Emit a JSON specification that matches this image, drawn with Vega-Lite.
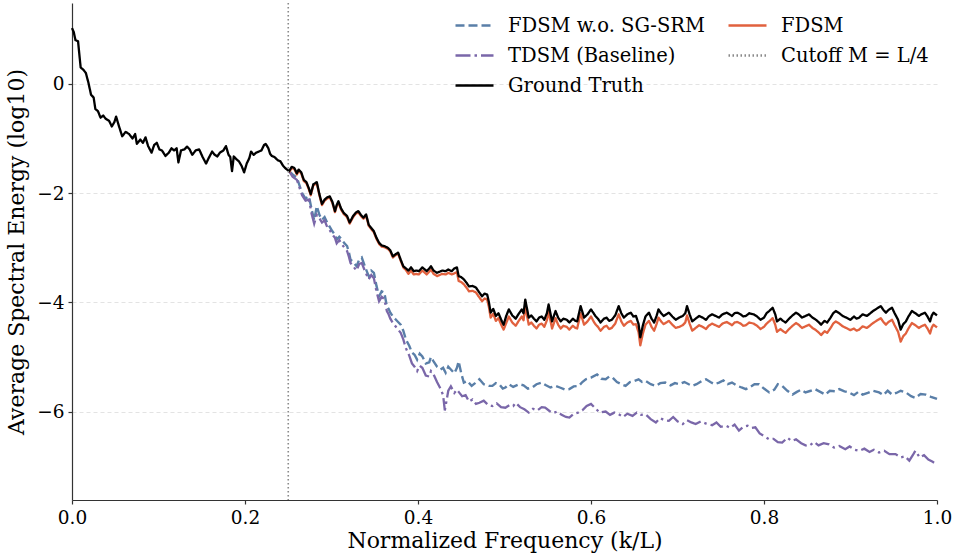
{
"$schema": "https://vega.github.io/schema/vega-lite/v6.json",
"width": 865, "height": 497,
"autosize": {"type": "none"},
"padding": {"left": 72, "top": 3, "right": 20, "bottom": 56},
"background": "white",
"config": {"font": "DejaVu Serif", "view": {"stroke": null},
  "legend": {"labelFont": "DejaVu Serif", "titleFont": "DejaVu Serif"},
  "axis": {"labelFont": "DejaVu Serif", "titleFont": "DejaVu Serif", "labelFontSize": 18.5, "titleFontSize": 22, "titleFontWeight": "normal", "labelColor": "#000", "titleColor": "#000", "domainColor": "#333", "tickColor": "#333", "domainWidth": 1.2, "tickWidth": 1.2, "tickSize": 4}},
"data": {"values": [
{"k":0.000,"v":1.02,"s":"GT"},{"k":0.002,"v":0.95,"s":"GT"},{"k":0.004,"v":0.80,"s":"GT"},{"k":0.007,"v":0.78,"s":"GT"},{"k":0.010,"v":0.30,"s":"GT"},{"k":0.013,"v":0.26,"s":"GT"},{"k":0.016,"v":0.20,"s":"GT"},{"k":0.019,"v":0.02,"s":"GT"},{"k":0.022,"v":-0.20,"s":"GT"},{"k":0.025,"v":-0.25,"s":"GT"},{"k":0.027,"v":-0.46,"s":"GT"},{"k":0.030,"v":-0.50,"s":"GT"},{"k":0.033,"v":-0.62,"s":"GT"},{"k":0.036,"v":-0.58,"s":"GT"},{"k":0.039,"v":-0.64,"s":"GT"},{"k":0.043,"v":-0.68,"s":"GT"},{"k":0.046,"v":-0.78,"s":"GT"},{"k":0.049,"v":-0.70,"s":"GT"},{"k":0.051,"v":-0.60,"s":"GT"},{"k":0.054,"v":-0.76,"s":"GT"},{"k":0.058,"v":-0.96,"s":"GT"},{"k":0.062,"v":-0.88,"s":"GT"},{"k":0.066,"v":-0.92,"s":"GT"},{"k":0.070,"v":-1.00,"s":"GT"},{"k":0.073,"v":-0.92,"s":"GT"},{"k":0.075,"v":-1.10,"s":"GT"},{"k":0.079,"v":-1.02,"s":"GT"},{"k":0.082,"v":-1.08,"s":"GT"},{"k":0.085,"v":-0.98,"s":"GT"},{"k":0.088,"v":-1.14,"s":"GT"},{"k":0.092,"v":-1.26,"s":"GT"},{"k":0.095,"v":-1.12,"s":"GT"},{"k":0.098,"v":-1.08,"s":"GT"},{"k":0.101,"v":-1.20,"s":"GT"},{"k":0.104,"v":-1.22,"s":"GT"},{"k":0.108,"v":-1.32,"s":"GT"},{"k":0.112,"v":-1.26,"s":"GT"},{"k":0.115,"v":-1.18,"s":"GT"},{"k":0.118,"v":-1.22,"s":"GT"},{"k":0.121,"v":-1.18,"s":"GT"},{"k":0.123,"v":-1.44,"s":"GT"},{"k":0.126,"v":-1.22,"s":"GT"},{"k":0.130,"v":-1.20,"s":"GT"},{"k":0.133,"v":-1.15,"s":"GT"},{"k":0.136,"v":-1.20,"s":"GT"},{"k":0.139,"v":-1.30,"s":"GT"},{"k":0.143,"v":-1.22,"s":"GT"},{"k":0.147,"v":-1.20,"s":"GT"},{"k":0.151,"v":-1.34,"s":"GT"},{"k":0.155,"v":-1.46,"s":"GT"},{"k":0.158,"v":-1.36,"s":"GT"},{"k":0.162,"v":-1.24,"s":"GT"},{"k":0.165,"v":-1.30,"s":"GT"},{"k":0.168,"v":-1.33,"s":"GT"},{"k":0.171,"v":-1.26,"s":"GT"},{"k":0.175,"v":-1.22,"s":"GT"},{"k":0.178,"v":-1.14,"s":"GT"},{"k":0.181,"v":-1.30,"s":"GT"},{"k":0.183,"v":-1.34,"s":"GT"},{"k":0.185,"v":-1.60,"s":"GT"},{"k":0.187,"v":-1.33,"s":"GT"},{"k":0.190,"v":-1.38,"s":"GT"},{"k":0.193,"v":-1.42,"s":"GT"},{"k":0.196,"v":-1.50,"s":"GT"},{"k":0.199,"v":-1.62,"s":"GT"},{"k":0.202,"v":-1.46,"s":"GT"},{"k":0.205,"v":-1.36,"s":"GT"},{"k":0.207,"v":-1.24,"s":"GT"},{"k":0.210,"v":-1.30,"s":"GT"},{"k":0.213,"v":-1.26,"s":"GT"},{"k":0.216,"v":-1.24,"s":"GT"},{"k":0.219,"v":-1.22,"s":"GT"},{"k":0.222,"v":-1.12,"s":"GT"},{"k":0.224,"v":-1.10,"s":"GT"},{"k":0.227,"v":-1.18,"s":"GT"},{"k":0.229,"v":-1.28,"s":"GT"},{"k":0.231,"v":-1.32,"s":"GT"},{"k":0.234,"v":-1.34,"s":"GT"},{"k":0.238,"v":-1.40,"s":"GT"},{"k":0.241,"v":-1.42,"s":"GT"},{"k":0.244,"v":-1.50,"s":"GT"},{"k":0.247,"v":-1.55,"s":"GT"},{"k":0.251,"v":-1.60,"s":"GT"},{"k":0.254,"v":-1.52,"s":"GT"},{"k":0.257,"v":-1.54,"s":"GT"},{"k":0.260,"v":-1.64,"s":"GT"},{"k":0.262,"v":-1.57,"s":"GT"},{"k":0.265,"v":-1.62,"s":"GT"},{"k":0.268,"v":-1.76,"s":"GT"},{"k":0.271,"v":-1.80,"s":"GT"},{"k":0.274,"v":-1.92,"s":"GT"},{"k":0.276,"v":-2.02,"s":"GT"},{"k":0.279,"v":-1.84,"s":"GT"},{"k":0.283,"v":-1.80,"s":"GT"},{"k":0.286,"v":-2.02,"s":"GT"},{"k":0.289,"v":-2.20,"s":"GT"},{"k":0.292,"v":-2.12,"s":"GT"},{"k":0.295,"v":-2.08,"s":"GT"},{"k":0.298,"v":-2.06,"s":"GT"},{"k":0.301,"v":-2.16,"s":"GT"},{"k":0.304,"v":-2.33,"s":"GT"},{"k":0.306,"v":-2.22,"s":"GT"},{"k":0.308,"v":-2.15,"s":"GT"},{"k":0.311,"v":-2.28,"s":"GT"},{"k":0.314,"v":-2.36,"s":"GT"},{"k":0.318,"v":-2.42,"s":"GT"},{"k":0.321,"v":-2.54,"s":"GT"},{"k":0.325,"v":-2.42,"s":"GT"},{"k":0.328,"v":-2.36,"s":"GT"},{"k":0.331,"v":-2.33,"s":"GT"},{"k":0.334,"v":-2.40,"s":"GT"},{"k":0.337,"v":-2.45,"s":"GT"},{"k":0.340,"v":-2.39,"s":"GT"},{"k":0.343,"v":-2.58,"s":"GT"},{"k":0.346,"v":-2.64,"s":"GT"},{"k":0.349,"v":-2.70,"s":"GT"},{"k":0.352,"v":-2.82,"s":"GT"},{"k":0.355,"v":-2.91,"s":"GT"},{"k":0.358,"v":-2.96,"s":"GT"},{"k":0.361,"v":-2.97,"s":"GT"},{"k":0.365,"v":-3.00,"s":"GT"},{"k":0.368,"v":-3.05,"s":"GT"},{"k":0.371,"v":-3.16,"s":"GT"},{"k":0.374,"v":-3.12,"s":"GT"},{"k":0.377,"v":-3.09,"s":"GT"},{"k":0.380,"v":-3.22,"s":"GT"},{"k":0.383,"v":-3.34,"s":"GT"},{"k":0.386,"v":-3.38,"s":"GT"},{"k":0.389,"v":-3.42,"s":"GT"},{"k":0.392,"v":-3.36,"s":"GT"},{"k":0.395,"v":-3.43,"s":"GT"},{"k":0.398,"v":-3.42,"s":"GT"},{"k":0.401,"v":-3.43,"s":"GT"},{"k":0.405,"v":-3.36,"s":"GT"},{"k":0.408,"v":-3.40,"s":"GT"},{"k":0.410,"v":-3.43,"s":"GT"},{"k":0.413,"v":-3.38,"s":"GT"},{"k":0.415,"v":-3.34,"s":"GT"},{"k":0.418,"v":-3.42,"s":"GT"},{"k":0.422,"v":-3.46,"s":"GT"},{"k":0.425,"v":-3.44,"s":"GT"},{"k":0.428,"v":-3.42,"s":"GT"},{"k":0.432,"v":-3.43,"s":"GT"},{"k":0.435,"v":-3.40,"s":"GT"},{"k":0.439,"v":-3.43,"s":"GT"},{"k":0.442,"v":-3.38,"s":"GT"},{"k":0.445,"v":-3.36,"s":"GT"},{"k":0.447,"v":-3.52,"s":"GT"},{"k":0.450,"v":-3.54,"s":"GT"},{"k":0.453,"v":-3.58,"s":"GT"},{"k":0.456,"v":-3.64,"s":"GT"},{"k":0.459,"v":-3.71,"s":"GT"},{"k":0.463,"v":-3.70,"s":"GT"},{"k":0.467,"v":-3.73,"s":"GT"},{"k":0.470,"v":-3.80,"s":"GT"},{"k":0.474,"v":-3.89,"s":"GT"},{"k":0.477,"v":-3.84,"s":"GT"},{"k":0.480,"v":-3.86,"s":"GT"},{"k":0.482,"v":-4.00,"s":"GT"},{"k":0.484,"v":-4.19,"s":"GT"},{"k":0.487,"v":-4.12,"s":"GT"},{"k":0.490,"v":-4.25,"s":"GT"},{"k":0.493,"v":-4.20,"s":"GT"},{"k":0.497,"v":-4.35,"s":"GT"},{"k":0.499,"v":-4.41,"s":"GT"},{"k":0.502,"v":-4.25,"s":"GT"},{"k":0.505,"v":-4.13,"s":"GT"},{"k":0.509,"v":-4.24,"s":"GT"},{"k":0.513,"v":-4.30,"s":"GT"},{"k":0.516,"v":-4.22,"s":"GT"},{"k":0.520,"v":-4.13,"s":"GT"},{"k":0.522,"v":-4.20,"s":"GT"},{"k":0.524,"v":-3.95,"s":"GT"},{"k":0.528,"v":-4.28,"s":"GT"},{"k":0.531,"v":-4.24,"s":"GT"},{"k":0.534,"v":-4.30,"s":"GT"},{"k":0.537,"v":-4.35,"s":"GT"},{"k":0.540,"v":-4.28,"s":"GT"},{"k":0.543,"v":-4.26,"s":"GT"},{"k":0.546,"v":-4.32,"s":"GT"},{"k":0.549,"v":-4.20,"s":"GT"},{"k":0.551,"v":-4.04,"s":"GT"},{"k":0.555,"v":-4.35,"s":"GT"},{"k":0.559,"v":-4.16,"s":"GT"},{"k":0.562,"v":-4.28,"s":"GT"},{"k":0.565,"v":-4.35,"s":"GT"},{"k":0.568,"v":-4.30,"s":"GT"},{"k":0.572,"v":-4.32,"s":"GT"},{"k":0.575,"v":-4.37,"s":"GT"},{"k":0.579,"v":-4.30,"s":"GT"},{"k":0.582,"v":-4.34,"s":"GT"},{"k":0.584,"v":-4.35,"s":"GT"},{"k":0.588,"v":-4.07,"s":"GT"},{"k":0.592,"v":-4.28,"s":"GT"},{"k":0.596,"v":-4.22,"s":"GT"},{"k":0.600,"v":-4.13,"s":"GT"},{"k":0.603,"v":-4.20,"s":"GT"},{"k":0.605,"v":-4.25,"s":"GT"},{"k":0.608,"v":-4.30,"s":"GT"},{"k":0.611,"v":-4.37,"s":"GT"},{"k":0.615,"v":-4.30,"s":"GT"},{"k":0.618,"v":-4.28,"s":"GT"},{"k":0.621,"v":-4.34,"s":"GT"},{"k":0.624,"v":-4.32,"s":"GT"},{"k":0.628,"v":-4.24,"s":"GT"},{"k":0.632,"v":-4.07,"s":"GT"},{"k":0.635,"v":-4.20,"s":"GT"},{"k":0.638,"v":-4.28,"s":"GT"},{"k":0.642,"v":-4.22,"s":"GT"},{"k":0.646,"v":-4.19,"s":"GT"},{"k":0.649,"v":-4.26,"s":"GT"},{"k":0.652,"v":-4.25,"s":"GT"},{"k":0.655,"v":-4.40,"s":"GT"},{"k":0.657,"v":-4.64,"s":"GT"},{"k":0.660,"v":-4.42,"s":"GT"},{"k":0.663,"v":-4.26,"s":"GT"},{"k":0.667,"v":-4.19,"s":"GT"},{"k":0.670,"v":-4.30,"s":"GT"},{"k":0.673,"v":-4.37,"s":"GT"},{"k":0.676,"v":-4.24,"s":"GT"},{"k":0.678,"v":-4.13,"s":"GT"},{"k":0.681,"v":-4.20,"s":"GT"},{"k":0.684,"v":-4.25,"s":"GT"},{"k":0.687,"v":-4.22,"s":"GT"},{"k":0.690,"v":-4.19,"s":"GT"},{"k":0.694,"v":-4.26,"s":"GT"},{"k":0.698,"v":-4.32,"s":"GT"},{"k":0.702,"v":-4.28,"s":"GT"},{"k":0.706,"v":-4.25,"s":"GT"},{"k":0.709,"v":-4.20,"s":"GT"},{"k":0.711,"v":-4.07,"s":"GT"},{"k":0.714,"v":-4.22,"s":"GT"},{"k":0.717,"v":-4.35,"s":"GT"},{"k":0.721,"v":-4.30,"s":"GT"},{"k":0.725,"v":-4.25,"s":"GT"},{"k":0.729,"v":-4.28,"s":"GT"},{"k":0.733,"v":-4.32,"s":"GT"},{"k":0.736,"v":-4.26,"s":"GT"},{"k":0.740,"v":-4.22,"s":"GT"},{"k":0.744,"v":-4.25,"s":"GT"},{"k":0.748,"v":-4.28,"s":"GT"},{"k":0.752,"v":-4.22,"s":"GT"},{"k":0.757,"v":-4.19,"s":"GT"},{"k":0.760,"v":-4.22,"s":"GT"},{"k":0.763,"v":-4.25,"s":"GT"},{"k":0.766,"v":-4.20,"s":"GT"},{"k":0.769,"v":-4.19,"s":"GT"},{"k":0.773,"v":-4.22,"s":"GT"},{"k":0.776,"v":-4.26,"s":"GT"},{"k":0.779,"v":-4.25,"s":"GT"},{"k":0.783,"v":-4.20,"s":"GT"},{"k":0.788,"v":-4.22,"s":"GT"},{"k":0.792,"v":-4.26,"s":"GT"},{"k":0.796,"v":-4.32,"s":"GT"},{"k":0.800,"v":-4.28,"s":"GT"},{"k":0.803,"v":-4.20,"s":"GT"},{"k":0.806,"v":-4.16,"s":"GT"},{"k":0.810,"v":-4.10,"s":"GT"},{"k":0.813,"v":-4.22,"s":"GT"},{"k":0.815,"v":-4.35,"s":"GT"},{"k":0.819,"v":-4.30,"s":"GT"},{"k":0.822,"v":-4.34,"s":"GT"},{"k":0.825,"v":-4.37,"s":"GT"},{"k":0.829,"v":-4.30,"s":"GT"},{"k":0.833,"v":-4.24,"s":"GT"},{"k":0.837,"v":-4.19,"s":"GT"},{"k":0.840,"v":-4.22,"s":"GT"},{"k":0.844,"v":-4.28,"s":"GT"},{"k":0.848,"v":-4.25,"s":"GT"},{"k":0.852,"v":-4.22,"s":"GT"},{"k":0.856,"v":-4.28,"s":"GT"},{"k":0.860,"v":-4.32,"s":"GT"},{"k":0.863,"v":-4.36,"s":"GT"},{"k":0.866,"v":-4.41,"s":"GT"},{"k":0.870,"v":-4.34,"s":"GT"},{"k":0.873,"v":-4.37,"s":"GT"},{"k":0.877,"v":-4.28,"s":"GT"},{"k":0.880,"v":-4.20,"s":"GT"},{"k":0.883,"v":-4.16,"s":"GT"},{"k":0.887,"v":-4.20,"s":"GT"},{"k":0.891,"v":-4.25,"s":"GT"},{"k":0.895,"v":-4.28,"s":"GT"},{"k":0.900,"v":-4.32,"s":"GT"},{"k":0.904,"v":-4.26,"s":"GT"},{"k":0.907,"v":-4.30,"s":"GT"},{"k":0.910,"v":-4.28,"s":"GT"},{"k":0.914,"v":-4.22,"s":"GT"},{"k":0.919,"v":-4.25,"s":"GT"},{"k":0.923,"v":-4.20,"s":"GT"},{"k":0.926,"v":-4.16,"s":"GT"},{"k":0.929,"v":-4.13,"s":"GT"},{"k":0.932,"v":-4.10,"s":"GT"},{"k":0.935,"v":-4.07,"s":"GT"},{"k":0.938,"v":-4.14,"s":"GT"},{"k":0.941,"v":-4.19,"s":"GT"},{"k":0.944,"v":-4.14,"s":"GT"},{"k":0.948,"v":-4.10,"s":"GT"},{"k":0.951,"v":-4.20,"s":"GT"},{"k":0.955,"v":-4.32,"s":"GT"},{"k":0.958,"v":-4.50,"s":"GT"},{"k":0.961,"v":-4.40,"s":"GT"},{"k":0.964,"v":-4.35,"s":"GT"},{"k":0.967,"v":-4.26,"s":"GT"},{"k":0.971,"v":-4.16,"s":"GT"},{"k":0.975,"v":-4.20,"s":"GT"},{"k":0.979,"v":-4.25,"s":"GT"},{"k":0.982,"v":-4.22,"s":"GT"},{"k":0.986,"v":-4.19,"s":"GT"},{"k":0.989,"v":-4.26,"s":"GT"},{"k":0.992,"v":-4.35,"s":"GT"},{"k":0.994,"v":-4.24,"s":"GT"},{"k":0.996,"v":-4.19,"s":"GT"},{"k":1.000,"v":-4.24,"s":"GT"},
{"k":0.251,"v":-1.62,"s":"FD"},{"k":0.254,"v":-1.54,"s":"FD"},{"k":0.257,"v":-1.56,"s":"FD"},{"k":0.260,"v":-1.66,"s":"FD"},{"k":0.262,"v":-1.59,"s":"FD"},{"k":0.265,"v":-1.64,"s":"FD"},{"k":0.268,"v":-1.78,"s":"FD"},{"k":0.271,"v":-1.82,"s":"FD"},{"k":0.274,"v":-1.94,"s":"FD"},{"k":0.276,"v":-2.04,"s":"FD"},{"k":0.279,"v":-1.86,"s":"FD"},{"k":0.283,"v":-1.82,"s":"FD"},{"k":0.286,"v":-2.04,"s":"FD"},{"k":0.289,"v":-2.22,"s":"FD"},{"k":0.292,"v":-2.14,"s":"FD"},{"k":0.295,"v":-2.10,"s":"FD"},{"k":0.298,"v":-2.08,"s":"FD"},{"k":0.301,"v":-2.18,"s":"FD"},{"k":0.304,"v":-2.35,"s":"FD"},{"k":0.306,"v":-2.24,"s":"FD"},{"k":0.308,"v":-2.17,"s":"FD"},{"k":0.311,"v":-2.30,"s":"FD"},{"k":0.314,"v":-2.38,"s":"FD"},{"k":0.318,"v":-2.44,"s":"FD"},{"k":0.321,"v":-2.56,"s":"FD"},{"k":0.325,"v":-2.44,"s":"FD"},{"k":0.328,"v":-2.38,"s":"FD"},{"k":0.331,"v":-2.35,"s":"FD"},{"k":0.334,"v":-2.42,"s":"FD"},{"k":0.337,"v":-2.47,"s":"FD"},{"k":0.340,"v":-2.41,"s":"FD"},{"k":0.343,"v":-2.60,"s":"FD"},{"k":0.346,"v":-2.66,"s":"FD"},{"k":0.349,"v":-2.72,"s":"FD"},{"k":0.352,"v":-2.84,"s":"FD"},{"k":0.355,"v":-2.93,"s":"FD"},{"k":0.358,"v":-2.98,"s":"FD"},{"k":0.361,"v":-2.99,"s":"FD"},{"k":0.365,"v":-3.02,"s":"FD"},{"k":0.368,"v":-3.07,"s":"FD"},{"k":0.371,"v":-3.18,"s":"FD"},{"k":0.374,"v":-3.14,"s":"FD"},{"k":0.377,"v":-3.11,"s":"FD"},{"k":0.380,"v":-3.24,"s":"FD"},{"k":0.383,"v":-3.36,"s":"FD"},{"k":0.386,"v":-3.41,"s":"FD"},{"k":0.389,"v":-3.48,"s":"FD"},{"k":0.392,"v":-3.42,"s":"FD"},{"k":0.395,"v":-3.49,"s":"FD"},{"k":0.398,"v":-3.48,"s":"FD"},{"k":0.401,"v":-3.49,"s":"FD"},{"k":0.405,"v":-3.42,"s":"FD"},{"k":0.408,"v":-3.46,"s":"FD"},{"k":0.410,"v":-3.49,"s":"FD"},{"k":0.413,"v":-3.44,"s":"FD"},{"k":0.415,"v":-3.40,"s":"FD"},{"k":0.418,"v":-3.48,"s":"FD"},{"k":0.422,"v":-3.52,"s":"FD"},{"k":0.425,"v":-3.50,"s":"FD"},{"k":0.428,"v":-3.48,"s":"FD"},{"k":0.432,"v":-3.49,"s":"FD"},{"k":0.435,"v":-3.46,"s":"FD"},{"k":0.439,"v":-3.49,"s":"FD"},{"k":0.442,"v":-3.47,"s":"FD"},{"k":0.445,"v":-3.45,"s":"FD"},{"k":0.447,"v":-3.61,"s":"FD"},{"k":0.450,"v":-3.63,"s":"FD"},{"k":0.453,"v":-3.67,"s":"FD"},{"k":0.456,"v":-3.73,"s":"FD"},{"k":0.459,"v":-3.80,"s":"FD"},{"k":0.463,"v":-3.79,"s":"FD"},{"k":0.467,"v":-3.82,"s":"FD"},{"k":0.470,"v":-3.89,"s":"FD"},{"k":0.474,"v":-3.98,"s":"FD"},{"k":0.477,"v":-3.93,"s":"FD"},{"k":0.480,"v":-3.95,"s":"FD"},{"k":0.482,"v":-4.09,"s":"FD"},{"k":0.484,"v":-4.28,"s":"FD"},{"k":0.487,"v":-4.21,"s":"FD"},{"k":0.490,"v":-4.34,"s":"FD"},{"k":0.493,"v":-4.29,"s":"FD"},{"k":0.497,"v":-4.44,"s":"FD"},{"k":0.499,"v":-4.50,"s":"FD"},{"k":0.502,"v":-4.38,"s":"FD"},{"k":0.505,"v":-4.26,"s":"FD"},{"k":0.509,"v":-4.37,"s":"FD"},{"k":0.513,"v":-4.43,"s":"FD"},{"k":0.516,"v":-4.35,"s":"FD"},{"k":0.520,"v":-4.26,"s":"FD"},{"k":0.522,"v":-4.33,"s":"FD"},{"k":0.524,"v":-4.08,"s":"FD"},{"k":0.528,"v":-4.41,"s":"FD"},{"k":0.531,"v":-4.37,"s":"FD"},{"k":0.534,"v":-4.43,"s":"FD"},{"k":0.537,"v":-4.48,"s":"FD"},{"k":0.540,"v":-4.41,"s":"FD"},{"k":0.543,"v":-4.39,"s":"FD"},{"k":0.546,"v":-4.45,"s":"FD"},{"k":0.549,"v":-4.33,"s":"FD"},{"k":0.551,"v":-4.17,"s":"FD"},{"k":0.555,"v":-4.48,"s":"FD"},{"k":0.559,"v":-4.29,"s":"FD"},{"k":0.562,"v":-4.41,"s":"FD"},{"k":0.565,"v":-4.48,"s":"FD"},{"k":0.568,"v":-4.43,"s":"FD"},{"k":0.572,"v":-4.45,"s":"FD"},{"k":0.575,"v":-4.50,"s":"FD"},{"k":0.579,"v":-4.43,"s":"FD"},{"k":0.582,"v":-4.47,"s":"FD"},{"k":0.584,"v":-4.48,"s":"FD"},{"k":0.588,"v":-4.20,"s":"FD"},{"k":0.592,"v":-4.41,"s":"FD"},{"k":0.596,"v":-4.35,"s":"FD"},{"k":0.600,"v":-4.26,"s":"FD"},{"k":0.603,"v":-4.35,"s":"FD"},{"k":0.605,"v":-4.40,"s":"FD"},{"k":0.608,"v":-4.45,"s":"FD"},{"k":0.611,"v":-4.52,"s":"FD"},{"k":0.615,"v":-4.45,"s":"FD"},{"k":0.618,"v":-4.43,"s":"FD"},{"k":0.621,"v":-4.49,"s":"FD"},{"k":0.624,"v":-4.47,"s":"FD"},{"k":0.628,"v":-4.39,"s":"FD"},{"k":0.632,"v":-4.22,"s":"FD"},{"k":0.635,"v":-4.35,"s":"FD"},{"k":0.638,"v":-4.43,"s":"FD"},{"k":0.642,"v":-4.37,"s":"FD"},{"k":0.646,"v":-4.34,"s":"FD"},{"k":0.649,"v":-4.41,"s":"FD"},{"k":0.652,"v":-4.40,"s":"FD"},{"k":0.655,"v":-4.55,"s":"FD"},{"k":0.657,"v":-4.79,"s":"FD"},{"k":0.660,"v":-4.57,"s":"FD"},{"k":0.663,"v":-4.41,"s":"FD"},{"k":0.667,"v":-4.34,"s":"FD"},{"k":0.670,"v":-4.45,"s":"FD"},{"k":0.673,"v":-4.52,"s":"FD"},{"k":0.676,"v":-4.39,"s":"FD"},{"k":0.678,"v":-4.28,"s":"FD"},{"k":0.681,"v":-4.35,"s":"FD"},{"k":0.684,"v":-4.40,"s":"FD"},{"k":0.687,"v":-4.37,"s":"FD"},{"k":0.690,"v":-4.34,"s":"FD"},{"k":0.694,"v":-4.41,"s":"FD"},{"k":0.698,"v":-4.47,"s":"FD"},{"k":0.702,"v":-4.45,"s":"FD"},{"k":0.706,"v":-4.42,"s":"FD"},{"k":0.709,"v":-4.37,"s":"FD"},{"k":0.711,"v":-4.24,"s":"FD"},{"k":0.714,"v":-4.39,"s":"FD"},{"k":0.717,"v":-4.52,"s":"FD"},{"k":0.721,"v":-4.47,"s":"FD"},{"k":0.725,"v":-4.42,"s":"FD"},{"k":0.729,"v":-4.45,"s":"FD"},{"k":0.733,"v":-4.49,"s":"FD"},{"k":0.736,"v":-4.43,"s":"FD"},{"k":0.740,"v":-4.39,"s":"FD"},{"k":0.744,"v":-4.42,"s":"FD"},{"k":0.748,"v":-4.45,"s":"FD"},{"k":0.752,"v":-4.39,"s":"FD"},{"k":0.757,"v":-4.36,"s":"FD"},{"k":0.760,"v":-4.39,"s":"FD"},{"k":0.763,"v":-4.42,"s":"FD"},{"k":0.766,"v":-4.37,"s":"FD"},{"k":0.769,"v":-4.36,"s":"FD"},{"k":0.773,"v":-4.39,"s":"FD"},{"k":0.776,"v":-4.43,"s":"FD"},{"k":0.779,"v":-4.42,"s":"FD"},{"k":0.783,"v":-4.37,"s":"FD"},{"k":0.788,"v":-4.39,"s":"FD"},{"k":0.792,"v":-4.43,"s":"FD"},{"k":0.796,"v":-4.49,"s":"FD"},{"k":0.800,"v":-4.45,"s":"FD"},{"k":0.803,"v":-4.39,"s":"FD"},{"k":0.806,"v":-4.35,"s":"FD"},{"k":0.810,"v":-4.29,"s":"FD"},{"k":0.813,"v":-4.41,"s":"FD"},{"k":0.815,"v":-4.54,"s":"FD"},{"k":0.819,"v":-4.49,"s":"FD"},{"k":0.822,"v":-4.53,"s":"FD"},{"k":0.825,"v":-4.56,"s":"FD"},{"k":0.829,"v":-4.49,"s":"FD"},{"k":0.833,"v":-4.43,"s":"FD"},{"k":0.837,"v":-4.38,"s":"FD"},{"k":0.840,"v":-4.41,"s":"FD"},{"k":0.844,"v":-4.47,"s":"FD"},{"k":0.848,"v":-4.44,"s":"FD"},{"k":0.852,"v":-4.41,"s":"FD"},{"k":0.856,"v":-4.47,"s":"FD"},{"k":0.860,"v":-4.51,"s":"FD"},{"k":0.863,"v":-4.55,"s":"FD"},{"k":0.866,"v":-4.60,"s":"FD"},{"k":0.870,"v":-4.53,"s":"FD"},{"k":0.873,"v":-4.56,"s":"FD"},{"k":0.877,"v":-4.47,"s":"FD"},{"k":0.880,"v":-4.39,"s":"FD"},{"k":0.883,"v":-4.35,"s":"FD"},{"k":0.887,"v":-4.39,"s":"FD"},{"k":0.891,"v":-4.44,"s":"FD"},{"k":0.895,"v":-4.47,"s":"FD"},{"k":0.900,"v":-4.51,"s":"FD"},{"k":0.904,"v":-4.48,"s":"FD"},{"k":0.907,"v":-4.52,"s":"FD"},{"k":0.910,"v":-4.50,"s":"FD"},{"k":0.914,"v":-4.44,"s":"FD"},{"k":0.919,"v":-4.47,"s":"FD"},{"k":0.923,"v":-4.42,"s":"FD"},{"k":0.926,"v":-4.38,"s":"FD"},{"k":0.929,"v":-4.35,"s":"FD"},{"k":0.932,"v":-4.32,"s":"FD"},{"k":0.935,"v":-4.29,"s":"FD"},{"k":0.938,"v":-4.36,"s":"FD"},{"k":0.941,"v":-4.41,"s":"FD"},{"k":0.944,"v":-4.36,"s":"FD"},{"k":0.948,"v":-4.32,"s":"FD"},{"k":0.951,"v":-4.42,"s":"FD"},{"k":0.955,"v":-4.54,"s":"FD"},{"k":0.958,"v":-4.72,"s":"FD"},{"k":0.961,"v":-4.62,"s":"FD"},{"k":0.964,"v":-4.57,"s":"FD"},{"k":0.967,"v":-4.48,"s":"FD"},{"k":0.971,"v":-4.38,"s":"FD"},{"k":0.975,"v":-4.42,"s":"FD"},{"k":0.979,"v":-4.47,"s":"FD"},{"k":0.982,"v":-4.44,"s":"FD"},{"k":0.986,"v":-4.41,"s":"FD"},{"k":0.989,"v":-4.48,"s":"FD"},{"k":0.992,"v":-4.57,"s":"FD"},{"k":0.994,"v":-4.46,"s":"FD"},{"k":0.996,"v":-4.41,"s":"FD"},{"k":1.000,"v":-4.46,"s":"FD"},
{"k":0.251,"v":-1.60,"s":"WO"},{"k":0.255,"v":-1.66,"s":"WO"},{"k":0.260,"v":-1.72,"s":"WO"},{"k":0.263,"v":-1.86,"s":"WO"},{"k":0.266,"v":-2.00,"s":"WO"},{"k":0.270,"v":-2.10,"s":"WO"},{"k":0.274,"v":-2.06,"s":"WO"},{"k":0.277,"v":-2.30,"s":"WO"},{"k":0.280,"v":-2.50,"s":"WO"},{"k":0.283,"v":-2.24,"s":"WO"},{"k":0.286,"v":-2.40,"s":"WO"},{"k":0.289,"v":-2.49,"s":"WO"},{"k":0.292,"v":-2.44,"s":"WO"},{"k":0.295,"v":-2.54,"s":"WO"},{"k":0.298,"v":-2.62,"s":"WO"},{"k":0.301,"v":-2.70,"s":"WO"},{"k":0.304,"v":-2.76,"s":"WO"},{"k":0.306,"v":-2.85,"s":"WO"},{"k":0.309,"v":-2.80,"s":"WO"},{"k":0.312,"v":-2.85,"s":"WO"},{"k":0.315,"v":-2.92,"s":"WO"},{"k":0.318,"v":-2.97,"s":"WO"},{"k":0.320,"v":-3.08,"s":"WO"},{"k":0.322,"v":-3.22,"s":"WO"},{"k":0.325,"v":-3.26,"s":"WO"},{"k":0.329,"v":-3.34,"s":"WO"},{"k":0.332,"v":-3.22,"s":"WO"},{"k":0.335,"v":-3.18,"s":"WO"},{"k":0.339,"v":-3.36,"s":"WO"},{"k":0.343,"v":-3.52,"s":"WO"},{"k":0.346,"v":-3.42,"s":"WO"},{"k":0.349,"v":-3.46,"s":"WO"},{"k":0.352,"v":-3.70,"s":"WO"},{"k":0.355,"v":-3.89,"s":"WO"},{"k":0.358,"v":-3.80,"s":"WO"},{"k":0.361,"v":-3.82,"s":"WO"},{"k":0.364,"v":-4.07,"s":"WO"},{"k":0.366,"v":-4.12,"s":"WO"},{"k":0.368,"v":-4.19,"s":"WO"},{"k":0.371,"v":-4.26,"s":"WO"},{"k":0.374,"v":-4.31,"s":"WO"},{"k":0.377,"v":-4.36,"s":"WO"},{"k":0.380,"v":-4.41,"s":"WO"},{"k":0.383,"v":-4.52,"s":"WO"},{"k":0.386,"v":-4.68,"s":"WO"},{"k":0.390,"v":-4.80,"s":"WO"},{"k":0.393,"v":-4.92,"s":"WO"},{"k":0.396,"v":-4.96,"s":"WO"},{"k":0.399,"v":-5.05,"s":"WO"},{"k":0.402,"v":-4.94,"s":"WO"},{"k":0.405,"v":-4.99,"s":"WO"},{"k":0.409,"v":-5.12,"s":"WO"},{"k":0.413,"v":-5.10,"s":"WO"},{"k":0.415,"v":-5.00,"s":"WO"},{"k":0.418,"v":-5.08,"s":"WO"},{"k":0.422,"v":-5.18,"s":"WO"},{"k":0.426,"v":-5.23,"s":"WO"},{"k":0.429,"v":-5.20,"s":"WO"},{"k":0.432,"v":-5.29,"s":"WO"},{"k":0.435,"v":-5.18,"s":"WO"},{"k":0.438,"v":-5.23,"s":"WO"},{"k":0.442,"v":-5.30,"s":"WO"},{"k":0.445,"v":-5.20,"s":"WO"},{"k":0.447,"v":-5.08,"s":"WO"},{"k":0.450,"v":-5.30,"s":"WO"},{"k":0.453,"v":-5.47,"s":"WO"},{"k":0.457,"v":-5.44,"s":"WO"},{"k":0.462,"v":-5.53,"s":"WO"},{"k":0.466,"v":-5.48,"s":"WO"},{"k":0.471,"v":-5.41,"s":"WO"},{"k":0.476,"v":-5.50,"s":"WO"},{"k":0.482,"v":-5.53,"s":"WO"},{"k":0.486,"v":-5.53,"s":"WO"},{"k":0.490,"v":-5.48,"s":"WO"},{"k":0.494,"v":-5.50,"s":"WO"},{"k":0.498,"v":-5.58,"s":"WO"},{"k":0.501,"v":-5.56,"s":"WO"},{"k":0.505,"v":-5.50,"s":"WO"},{"k":0.510,"v":-5.55,"s":"WO"},{"k":0.517,"v":-5.50,"s":"WO"},{"k":0.522,"v":-5.52,"s":"WO"},{"k":0.527,"v":-5.58,"s":"WO"},{"k":0.532,"v":-5.56,"s":"WO"},{"k":0.537,"v":-5.50,"s":"WO"},{"k":0.543,"v":-5.47,"s":"WO"},{"k":0.548,"v":-5.52,"s":"WO"},{"k":0.553,"v":-5.56,"s":"WO"},{"k":0.559,"v":-5.53,"s":"WO"},{"k":0.564,"v":-5.56,"s":"WO"},{"k":0.570,"v":-5.60,"s":"WO"},{"k":0.575,"v":-5.59,"s":"WO"},{"k":0.580,"v":-5.54,"s":"WO"},{"k":0.586,"v":-5.53,"s":"WO"},{"k":0.590,"v":-5.46,"s":"WO"},{"k":0.594,"v":-5.41,"s":"WO"},{"k":0.600,"v":-5.38,"s":"WO"},{"k":0.607,"v":-5.32,"s":"WO"},{"k":0.612,"v":-5.40,"s":"WO"},{"k":0.617,"v":-5.41,"s":"WO"},{"k":0.621,"v":-5.36,"s":"WO"},{"k":0.625,"v":-5.38,"s":"WO"},{"k":0.630,"v":-5.46,"s":"WO"},{"k":0.635,"v":-5.50,"s":"WO"},{"k":0.640,"v":-5.53,"s":"WO"},{"k":0.645,"v":-5.46,"s":"WO"},{"k":0.650,"v":-5.44,"s":"WO"},{"k":0.655,"v":-5.41,"s":"WO"},{"k":0.659,"v":-5.46,"s":"WO"},{"k":0.663,"v":-5.44,"s":"WO"},{"k":0.669,"v":-5.50,"s":"WO"},{"k":0.675,"v":-5.53,"s":"WO"},{"k":0.680,"v":-5.48,"s":"WO"},{"k":0.686,"v":-5.47,"s":"WO"},{"k":0.692,"v":-5.52,"s":"WO"},{"k":0.697,"v":-5.48,"s":"WO"},{"k":0.702,"v":-5.50,"s":"WO"},{"k":0.708,"v":-5.46,"s":"WO"},{"k":0.713,"v":-5.50,"s":"WO"},{"k":0.717,"v":-5.53,"s":"WO"},{"k":0.722,"v":-5.50,"s":"WO"},{"k":0.728,"v":-5.44,"s":"WO"},{"k":0.733,"v":-5.41,"s":"WO"},{"k":0.738,"v":-5.46,"s":"WO"},{"k":0.743,"v":-5.50,"s":"WO"},{"k":0.748,"v":-5.47,"s":"WO"},{"k":0.753,"v":-5.43,"s":"WO"},{"k":0.758,"v":-5.50,"s":"WO"},{"k":0.763,"v":-5.47,"s":"WO"},{"k":0.768,"v":-5.52,"s":"WO"},{"k":0.774,"v":-5.56,"s":"WO"},{"k":0.779,"v":-5.59,"s":"WO"},{"k":0.784,"v":-5.55,"s":"WO"},{"k":0.789,"v":-5.50,"s":"WO"},{"k":0.794,"v":-5.50,"s":"WO"},{"k":0.800,"v":-5.58,"s":"WO"},{"k":0.806,"v":-5.65,"s":"WO"},{"k":0.812,"v":-5.60,"s":"WO"},{"k":0.816,"v":-5.50,"s":"WO"},{"k":0.821,"v":-5.53,"s":"WO"},{"k":0.827,"v":-5.62,"s":"WO"},{"k":0.833,"v":-5.69,"s":"WO"},{"k":0.838,"v":-5.64,"s":"WO"},{"k":0.843,"v":-5.60,"s":"WO"},{"k":0.848,"v":-5.65,"s":"WO"},{"k":0.854,"v":-5.62,"s":"WO"},{"k":0.859,"v":-5.59,"s":"WO"},{"k":0.865,"v":-5.64,"s":"WO"},{"k":0.871,"v":-5.69,"s":"WO"},{"k":0.876,"v":-5.62,"s":"WO"},{"k":0.882,"v":-5.63,"s":"WO"},{"k":0.887,"v":-5.59,"s":"WO"},{"k":0.893,"v":-5.63,"s":"WO"},{"k":0.898,"v":-5.65,"s":"WO"},{"k":0.904,"v":-5.70,"s":"WO"},{"k":0.909,"v":-5.64,"s":"WO"},{"k":0.914,"v":-5.69,"s":"WO"},{"k":0.920,"v":-5.66,"s":"WO"},{"k":0.926,"v":-5.62,"s":"WO"},{"k":0.933,"v":-5.65,"s":"WO"},{"k":0.938,"v":-5.70,"s":"WO"},{"k":0.943,"v":-5.62,"s":"WO"},{"k":0.948,"v":-5.69,"s":"WO"},{"k":0.953,"v":-5.66,"s":"WO"},{"k":0.958,"v":-5.62,"s":"WO"},{"k":0.964,"v":-5.65,"s":"WO"},{"k":0.970,"v":-5.72,"s":"WO"},{"k":0.975,"v":-5.75,"s":"WO"},{"k":0.981,"v":-5.68,"s":"WO"},{"k":0.987,"v":-5.69,"s":"WO"},{"k":0.993,"v":-5.73,"s":"WO"},{"k":1.000,"v":-5.77,"s":"WO"},
{"k":0.251,"v":-1.60,"s":"TD"},{"k":0.255,"v":-1.70,"s":"TD"},{"k":0.260,"v":-1.76,"s":"TD"},{"k":0.263,"v":-1.90,"s":"TD"},{"k":0.266,"v":-2.04,"s":"TD"},{"k":0.270,"v":-2.14,"s":"TD"},{"k":0.274,"v":-2.12,"s":"TD"},{"k":0.277,"v":-2.38,"s":"TD"},{"k":0.280,"v":-2.56,"s":"TD"},{"k":0.283,"v":-2.40,"s":"TD"},{"k":0.286,"v":-2.46,"s":"TD"},{"k":0.289,"v":-2.54,"s":"TD"},{"k":0.292,"v":-2.50,"s":"TD"},{"k":0.295,"v":-2.62,"s":"TD"},{"k":0.298,"v":-2.68,"s":"TD"},{"k":0.301,"v":-2.76,"s":"TD"},{"k":0.304,"v":-2.82,"s":"TD"},{"k":0.306,"v":-2.92,"s":"TD"},{"k":0.309,"v":-2.86,"s":"TD"},{"k":0.312,"v":-2.94,"s":"TD"},{"k":0.315,"v":-3.00,"s":"TD"},{"k":0.318,"v":-3.06,"s":"TD"},{"k":0.320,"v":-3.16,"s":"TD"},{"k":0.322,"v":-3.28,"s":"TD"},{"k":0.325,"v":-3.34,"s":"TD"},{"k":0.329,"v":-3.42,"s":"TD"},{"k":0.332,"v":-3.30,"s":"TD"},{"k":0.335,"v":-3.28,"s":"TD"},{"k":0.339,"v":-3.44,"s":"TD"},{"k":0.343,"v":-3.58,"s":"TD"},{"k":0.346,"v":-3.50,"s":"TD"},{"k":0.349,"v":-3.56,"s":"TD"},{"k":0.352,"v":-3.80,"s":"TD"},{"k":0.355,"v":-3.98,"s":"TD"},{"k":0.358,"v":-3.90,"s":"TD"},{"k":0.361,"v":-3.94,"s":"TD"},{"k":0.364,"v":-4.16,"s":"TD"},{"k":0.366,"v":-4.22,"s":"TD"},{"k":0.368,"v":-4.30,"s":"TD"},{"k":0.371,"v":-4.38,"s":"TD"},{"k":0.374,"v":-4.44,"s":"TD"},{"k":0.377,"v":-4.50,"s":"TD"},{"k":0.380,"v":-4.56,"s":"TD"},{"k":0.383,"v":-4.68,"s":"TD"},{"k":0.386,"v":-4.84,"s":"TD"},{"k":0.390,"v":-4.98,"s":"TD"},{"k":0.393,"v":-5.12,"s":"TD"},{"k":0.396,"v":-5.18,"s":"TD"},{"k":0.399,"v":-5.26,"s":"TD"},{"k":0.402,"v":-5.16,"s":"TD"},{"k":0.405,"v":-5.20,"s":"TD"},{"k":0.409,"v":-5.34,"s":"TD"},{"k":0.413,"v":-5.36,"s":"TD"},{"k":0.415,"v":-5.26,"s":"TD"},{"k":0.418,"v":-5.32,"s":"TD"},{"k":0.422,"v":-5.46,"s":"TD"},{"k":0.426,"v":-5.58,"s":"TD"},{"k":0.429,"v":-5.70,"s":"TD"},{"k":0.431,"v":-5.98,"s":"TD"},{"k":0.433,"v":-5.80,"s":"TD"},{"k":0.435,"v":-5.62,"s":"TD"},{"k":0.438,"v":-5.54,"s":"TD"},{"k":0.442,"v":-5.66,"s":"TD"},{"k":0.445,"v":-5.60,"s":"TD"},{"k":0.447,"v":-5.64,"s":"TD"},{"k":0.451,"v":-5.72,"s":"TD"},{"k":0.455,"v":-5.70,"s":"TD"},{"k":0.459,"v":-5.82,"s":"TD"},{"k":0.463,"v":-5.78,"s":"TD"},{"k":0.467,"v":-5.86,"s":"TD"},{"k":0.471,"v":-5.84,"s":"TD"},{"k":0.476,"v":-5.80,"s":"TD"},{"k":0.481,"v":-5.88,"s":"TD"},{"k":0.486,"v":-5.90,"s":"TD"},{"k":0.491,"v":-5.85,"s":"TD"},{"k":0.496,"v":-5.92,"s":"TD"},{"k":0.501,"v":-5.93,"s":"TD"},{"k":0.506,"v":-5.88,"s":"TD"},{"k":0.510,"v":-5.90,"s":"TD"},{"k":0.513,"v":-5.84,"s":"TD"},{"k":0.518,"v":-5.92,"s":"TD"},{"k":0.523,"v":-5.96,"s":"TD"},{"k":0.528,"v":-6.02,"s":"TD"},{"k":0.533,"v":-5.95,"s":"TD"},{"k":0.538,"v":-5.98,"s":"TD"},{"k":0.543,"v":-5.92,"s":"TD"},{"k":0.547,"v":-5.93,"s":"TD"},{"k":0.552,"v":-5.99,"s":"TD"},{"k":0.556,"v":-6.03,"s":"TD"},{"k":0.561,"v":-6.00,"s":"TD"},{"k":0.566,"v":-6.06,"s":"TD"},{"k":0.571,"v":-6.10,"s":"TD"},{"k":0.575,"v":-6.11,"s":"TD"},{"k":0.580,"v":-6.04,"s":"TD"},{"k":0.585,"v":-6.02,"s":"TD"},{"k":0.590,"v":-5.98,"s":"TD"},{"k":0.595,"v":-5.90,"s":"TD"},{"k":0.600,"v":-5.86,"s":"TD"},{"k":0.605,"v":-5.94,"s":"TD"},{"k":0.610,"v":-6.02,"s":"TD"},{"k":0.617,"v":-6.00,"s":"TD"},{"k":0.622,"v":-6.06,"s":"TD"},{"k":0.627,"v":-6.02,"s":"TD"},{"k":0.632,"v":-6.05,"s":"TD"},{"k":0.637,"v":-6.10,"s":"TD"},{"k":0.642,"v":-6.04,"s":"TD"},{"k":0.648,"v":-6.08,"s":"TD"},{"k":0.653,"v":-6.02,"s":"TD"},{"k":0.658,"v":-6.06,"s":"TD"},{"k":0.663,"v":-6.05,"s":"TD"},{"k":0.669,"v":-6.14,"s":"TD"},{"k":0.675,"v":-6.20,"s":"TD"},{"k":0.680,"v":-6.12,"s":"TD"},{"k":0.685,"v":-6.16,"s":"TD"},{"k":0.690,"v":-6.17,"s":"TD"},{"k":0.695,"v":-6.10,"s":"TD"},{"k":0.700,"v":-6.18,"s":"TD"},{"k":0.706,"v":-6.23,"s":"TD"},{"k":0.711,"v":-6.16,"s":"TD"},{"k":0.716,"v":-6.20,"s":"TD"},{"k":0.721,"v":-6.23,"s":"TD"},{"k":0.727,"v":-6.18,"s":"TD"},{"k":0.733,"v":-6.22,"s":"TD"},{"k":0.740,"v":-6.25,"s":"TD"},{"k":0.745,"v":-6.20,"s":"TD"},{"k":0.750,"v":-6.28,"s":"TD"},{"k":0.756,"v":-6.26,"s":"TD"},{"k":0.761,"v":-6.30,"s":"TD"},{"k":0.766,"v":-6.24,"s":"TD"},{"k":0.771,"v":-6.35,"s":"TD"},{"k":0.776,"v":-6.28,"s":"TD"},{"k":0.781,"v":-6.26,"s":"TD"},{"k":0.786,"v":-6.30,"s":"TD"},{"k":0.790,"v":-6.29,"s":"TD"},{"k":0.795,"v":-6.40,"s":"TD"},{"k":0.801,"v":-6.46,"s":"TD"},{"k":0.806,"v":-6.51,"s":"TD"},{"k":0.811,"v":-6.50,"s":"TD"},{"k":0.816,"v":-6.56,"s":"TD"},{"k":0.821,"v":-6.57,"s":"TD"},{"k":0.827,"v":-6.48,"s":"TD"},{"k":0.832,"v":-6.54,"s":"TD"},{"k":0.837,"v":-6.51,"s":"TD"},{"k":0.843,"v":-6.58,"s":"TD"},{"k":0.848,"v":-6.62,"s":"TD"},{"k":0.852,"v":-6.63,"s":"TD"},{"k":0.858,"v":-6.56,"s":"TD"},{"k":0.863,"v":-6.62,"s":"TD"},{"k":0.869,"v":-6.58,"s":"TD"},{"k":0.875,"v":-6.60,"s":"TD"},{"k":0.881,"v":-6.66,"s":"TD"},{"k":0.887,"v":-6.63,"s":"TD"},{"k":0.894,"v":-6.69,"s":"TD"},{"k":0.899,"v":-6.64,"s":"TD"},{"k":0.905,"v":-6.70,"s":"TD"},{"k":0.910,"v":-6.72,"s":"TD"},{"k":0.916,"v":-6.68,"s":"TD"},{"k":0.922,"v":-6.74,"s":"TD"},{"k":0.927,"v":-6.70,"s":"TD"},{"k":0.933,"v":-6.75,"s":"TD"},{"k":0.939,"v":-6.72,"s":"TD"},{"k":0.945,"v":-6.78,"s":"TD"},{"k":0.952,"v":-6.78,"s":"TD"},{"k":0.958,"v":-6.84,"s":"TD"},{"k":0.963,"v":-6.82,"s":"TD"},{"k":0.968,"v":-6.90,"s":"TD"},{"k":0.972,"v":-6.80,"s":"TD"},{"k":0.975,"v":-6.72,"s":"TD"},{"k":0.980,"v":-6.84,"s":"TD"},{"k":0.985,"v":-6.80,"s":"TD"},{"k":0.990,"v":-6.88,"s":"TD"},{"k":0.995,"v":-6.92,"s":"TD"},{"k":1.000,"v":-6.97,"s":"TD"},
{"k":0.25,"s":"CO"}
]},
"encoding": {
  "x": {"field": "k", "type": "quantitative", "scale": {"domain": [0, 1], "nice": false, "zero": false},
    "axis": {"title": "Normalized Frequency (k/L)", "values": [0, 0.2, 0.4, 0.6, 0.8, 1.0], "format": ".1f", "grid": false, "labelPadding": 4, "titlePadding": 4, "labelFlush": false}},
  "color": {"field": "s", "type": "nominal",
    "scale": {"domain": ["WO", "TD", "GT", "FD", "CO"], "range": ["#5a7fa8", "#7a67a9", "#000000", "#e1613e", "#8a8a8a"]},
    "legend": {"orient": "none", "legendX": 382, "legendY": 2, "columns": 2, "title": null, "symbolType": "stroke", "symbolSize": 1444, "symbolStrokeWidth": 2.4, "labelFont": "DejaVu Serif", "labelFontSize": 19.5, "labelColor": "#000", "labelLimit": 400, "labelOffset": 13, "rowPadding": 0, "columnPadding": 18, "labelExpr": "datum.label=='WO'?'FDSM w.o. SG-SRM':datum.label=='TD'?'TDSM (Baseline)':datum.label=='GT'?'Ground Truth':datum.label=='FD'?'FDSM':'Cutoff M = L/4'"}},
  "strokeDash": {"field": "s", "type": "nominal",
    "scale": {"domain": ["WO", "TD", "GT", "FD", "CO"], "range": [[9, 4], [15, 4, 2.5, 4], [1, 0], [1, 0], [1.5, 2.5]]},
    "legend": {"orient": "none", "legendX": 382, "legendY": 2, "columns": 2, "title": null, "symbolType": "stroke", "symbolSize": 1444, "symbolStrokeWidth": 2.4, "labelFont": "DejaVu Serif", "labelFontSize": 19.5, "labelColor": "#000", "labelLimit": 400, "labelOffset": 13, "rowPadding": 0, "columnPadding": 18, "labelExpr": "datum.label=='WO'?'FDSM w.o. SG-SRM':datum.label=='TD'?'TDSM (Baseline)':datum.label=='GT'?'Ground Truth':datum.label=='FD'?'FDSM':'Cutoff M = L/4'"}}
},
"layer": [
  {"transform": [{"filter": "datum.s==='WO'"}], "mark": {"type": "line", "strokeWidth": 2.4, "strokeCap": "butt"},
   "encoding": {"y": {"field": "v", "type": "quantitative", "scale": {"domain": [-7.62, 1.48], "nice": false, "zero": false},
     "axis": {"title": "Average Spectral Energy (log10)", "values": [0, -2, -4, -6], "format": "d", "grid": true, "gridDash": [4, 3], "gridColor": "#e3e3e3", "gridWidth": 1, "labelPadding": 4, "titlePadding": 8}}}},
  {"transform": [{"filter": "datum.s==='TD'"}], "mark": {"type": "line", "strokeWidth": 2.3, "strokeCap": "butt"},
   "encoding": {"y": {"field": "v", "type": "quantitative"}}},
  {"transform": [{"filter": "datum.s==='FD'"}], "mark": {"type": "line", "strokeWidth": 2.3, "strokeJoin": "round"},
   "encoding": {"y": {"field": "v", "type": "quantitative"}}},
  {"transform": [{"filter": "datum.s==='GT'"}], "mark": {"type": "line", "strokeWidth": 2.3, "strokeJoin": "round"},
   "encoding": {"y": {"field": "v", "type": "quantitative"}}},
  {"transform": [{"filter": "datum.s==='CO'"}], "mark": {"type": "rule", "strokeWidth": 1.6}, "encoding": {}}
]
}
